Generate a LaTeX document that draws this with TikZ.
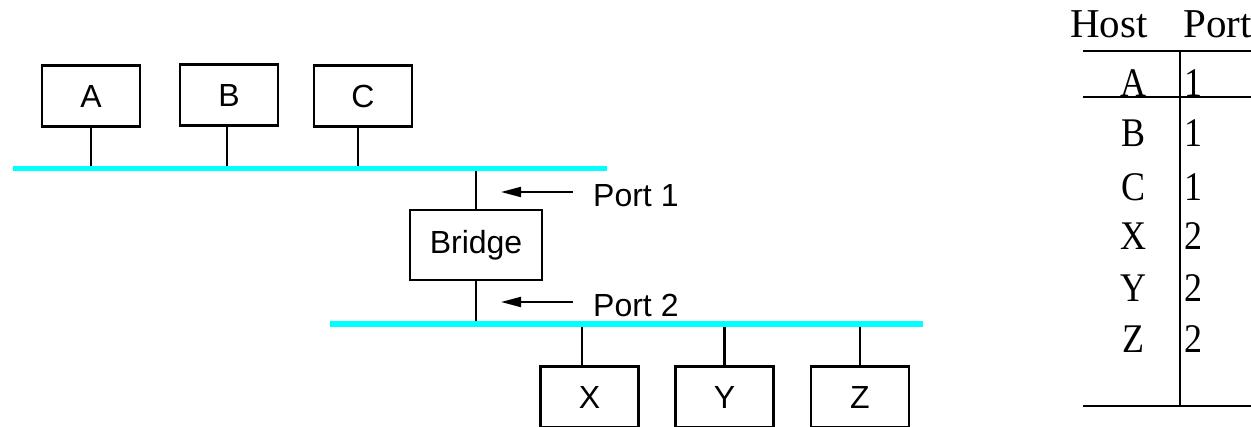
\documentclass[tikz,border=0pt]{standalone}
\usepackage{fontspec}
\setmainfont{Liberation Serif}
\setsansfont{Liberation Sans}
\usetikzlibrary{arrows.meta}
\definecolor{buscyan}{HTML}{00FFFF}
\newcommand{\tallrm}[1]{\scalebox{1}[1.13]{#1}}
\tikzset{
  host/.style={draw=black, line width=2.6pt, minimum width=98pt, minimum height=61pt, inner sep=0pt,
    font=\sffamily\fontsize{32}{36}\selectfont},
  bridgebox/.style={host, minimum width=132pt, minimum height=70pt},
  bus/.style={draw=buscyan, line width=5.5pt},
  wire/.style={draw=black, line width=2.4pt},
  portarrow/.style={draw=black, line width=2pt, -{Triangle[length=20pt,width=10pt]}},
  portlabel/.style={anchor=base west, inner sep=0pt, font=\sffamily\fontsize{32}{36}\selectfont},
  thead/.style={inner sep=0pt, font=\rmfamily\fontsize{41}{46}\selectfont},
  tcell/.style={inner sep=0pt, font=\rmfamily\fontsize{36}{40}\selectfont},
  tline/.style={draw=black, line width=1.8pt}
}
\begin{document}
\begin{tikzpicture}[x=1pt,y=-1pt]
\useasboundingbox (0,0) rectangle (1251,427);
\clip (0,0) rectangle (1251,427);
% buses
\coordinate (b1l) at (13,168.5);
\coordinate (b1r) at (607,168.5);
\coordinate (b2l) at (330,324);
\coordinate (b2r) at (923,324);
% hosts
\node[host] (A) at (91,96) {A};
\node[host] (B) at (229,95) {B};
\node[host] (C) at (363,96) {C};
\node[bridgebox] (br) at (476,245) {Bridge};
\node[host] (X) at (589.5,397) {X};
\node[host] (Y) at (724.5,397) {Y};
\node[host] (Z) at (860,397) {Z};
% wires
\draw[wire] (A.south) -- (A.south |- b1l);
\draw[wire] ([xshift=-2pt]B.south) -- ([xshift=-2pt]B.south |- b1l);
\draw[wire] ([xshift=-5pt]C.south) -- ([xshift=-5pt]C.south |- b1l);
\draw[wire] (br.north) -- (br.north |- b1l);
\draw[wire] (br.south) -- (br.south |- b2l);
\draw[wire] ([xshift=-7.5pt]X.north) -- ([xshift=-7.5pt]X.north |- b2l);
\draw[wire] (Y.north) -- (Y.north |- b2l);
\draw[wire] (Z.north) -- (Z.north |- b2l);
\draw[bus] (b1l) -- (b1r);
\draw[bus] (b2l) -- (b2r);
% port labels
\node[portlabel] (p1) at (593,207) {Port 1};
\node[portlabel] (p2) at (593,317) {Port 2};
\coordinate (a1s) at (573,192);
\coordinate (a1e) at (501,192);
\coordinate (a2s) at (573,302);
\coordinate (a2e) at (501,302);
\draw[portarrow] (a1s) -- (a1e);
\draw[portarrow] (a2s) -- (a2e);
% table
\node[thead, anchor=base west] (hh) at (1070,38) {Host};
\node[thead, anchor=base west] (hp) at (1183,38) {Port};
\coordinate (t1l) at (1083,51);
\coordinate (t1r) at (1255,51);
\coordinate (t2l) at (1083,97);
\coordinate (t2r) at (1255,97);
\coordinate (t3l) at (1083,406);
\coordinate (t3r) at (1255,406);
\coordinate (vt) at (1180,51);
\coordinate (vb) at (1180,406);
\foreach \n/\h/\p/\y in {ra/A/1/97, rb/B/1/147, rc/C/1/201, rx/X/2/250, ry/Y/2/302, rz/Z/2/353}{
  \node[tcell, anchor=base] (\n h) at (1133,\y) {\tallrm{\h}};
  \node[tcell, anchor=base west] (\n p) at (1184,\y) {\tallrm{\p}};
}
\draw[tline] (t1l) -- (t1r);
\draw[tline] (t2l) -- (t2r);
\draw[tline] (t3l) -- (t3r);
\draw[tline] (vt) -- (vb);
\end{tikzpicture}
\end{document}
